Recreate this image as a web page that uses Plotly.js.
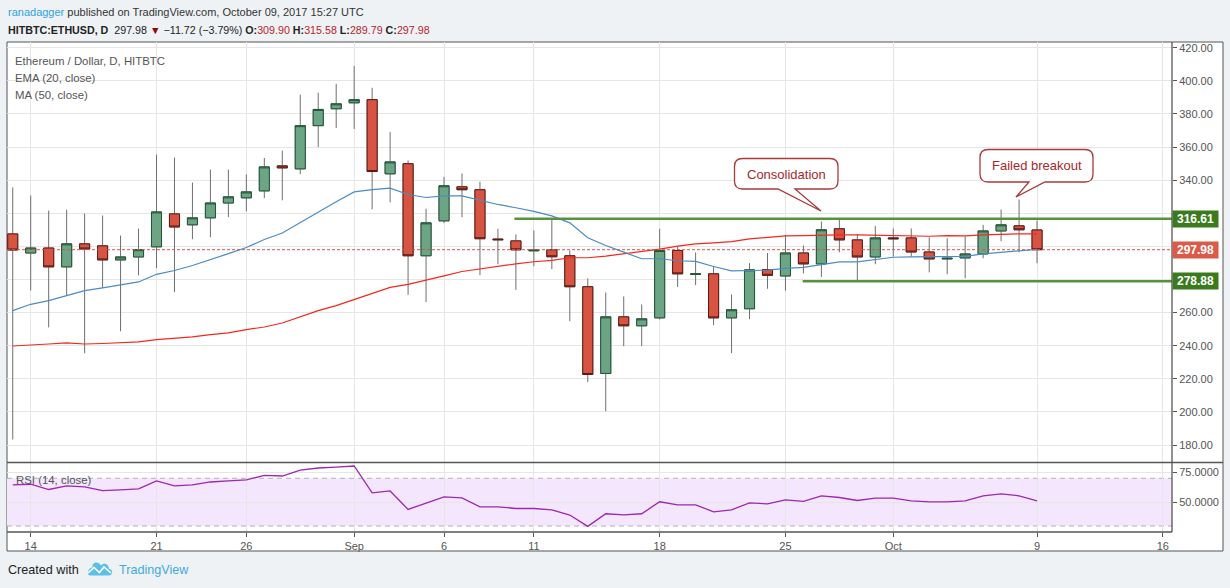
<!DOCTYPE html>
<html><head><meta charset="utf-8">
<script src="https://cdn.plot.ly/plotly-3.0.1.min.js"></script>
<style>html,body{margin:0;padding:0;background:#eff2f5;}#chart{width:1230px;height:588px;}</style>
</head><body><div id="chart"></div>
<script>
// ---- data ----
const dates = ['2017-08-13','2017-08-14','2017-08-15','2017-08-16','2017-08-17','2017-08-18','2017-08-19','2017-08-20','2017-08-21','2017-08-22',
 '2017-08-23','2017-08-24','2017-08-25','2017-08-26','2017-08-27','2017-08-28','2017-08-29','2017-08-30','2017-08-31','2017-09-01',
 '2017-09-02','2017-09-03','2017-09-04','2017-09-05','2017-09-06','2017-09-07','2017-09-08','2017-09-09','2017-09-10','2017-09-11',
 '2017-09-12','2017-09-13','2017-09-14','2017-09-15','2017-09-16','2017-09-17','2017-09-18','2017-09-19','2017-09-20','2017-09-21',
 '2017-09-22','2017-09-23','2017-09-24','2017-09-25','2017-09-26','2017-09-27','2017-09-28','2017-09-29','2017-09-30','2017-10-01',
 '2017-10-02','2017-10-03','2017-10-04','2017-10-05','2017-10-06','2017-10-07','2017-10-08','2017-10-09'];
const openP  = [307.5,296.0,299.0,287.6,301.5,300.3,291.8,293.6,299.7,319.6, 313.0,317.2,326.2,329.3,333.5,348.6,346.8,372.9,383.1,386.7,
 388.6,343.8,349.9,294.3,315.4,336.0,334.2,304.4,303.3,297.3, 297.9,294.3,275.6,223.2,257.4,252.0,256.8,297.5,283.0,283.4,
 256.8,262.3,286.0,282.1,296.0,289.4,310.6,303.9,293.6,305.1, 305.1,296.6,292.4,293.0,295.4,309.3,312.4,309.90];
const highP  = [335.6,330.7,321.6,322.2,319.8,318.6,306.5,310.7,355.4,353.6, 338.5,346.4,346.4,343.4,353.4,357.8,391.6,392.8,398.2,409.0,
 395.8,369.0,351.9,322.7,342.0,344.0,339.0,310.6,307.2,309.6, 316.6,297.5,280.6,272.1,269.7,264.9,310.6,299.9,296.3,288.0,
 270.9,289.9,296.0,306.9,300.5,315.0,316.2,307.5,312.4,310.8, 310.8,305.5,304.9,306.1,313.0,322.3,328.3,315.58];
const lowP   = [183.3,273.3,251.0,270.3,235.4,274.9,248.7,282.5,286.8,272.3, 304.3,305.5,317.6,321.2,329.1,327.8,343.6,360.0,371.5,370.9,
 322.4,326.6,270.7,266.3,314.0,317.6,282.6,289.2,273.7,288.0, 286.2,254.8,218.0,200.4,239.7,239.7,255.8,275.4,276.6,252.4,
 235.5,256.0,274.4,273.2,283.7,281.5,296.4,279.1,289.2,293.8, 293.8,284.3,283.1,280.7,292.8,303.1,296.4,289.79];
const closeP = [297.8,299.0,287.6,301.5,298.4,291.8,293.6,298.0,320.8,311.7, 317.2,326.2,329.9,332.9,348.0,347.4,372.9,382.7,386.1,388.6,
 345.2,351.0,294.3,314.2,336.6,334.2,304.6,304.0,297.9,297.7, 293.7,275.6,222.6,257.4,252.0,256.2,297.5,283.4,283.4,256.8,
 261.7,285.8,282.5,296.0,289.4,310.0,303.9,293.6,305.1,304.6, 296.6,292.4,292.8,295.4,309.3,313.0,310.0,297.98];
const ema20 = [261.2,265.0,267.2,270.3,273.3,274.9,276.7,278.5,283.1,285.4, 288.4,292.2,295.6,299.3,304.1,308.1,314.4,321.2,327.0,332.9,
 334.3,335.2,331.3,329.5,330.5,330.5,327.7,325.3,323.3,321.1, 318.4,314.2,305.2,300.5,296.5,292.5,292.5,291.3,290.9,287.8,
 285.2,285.2,285.6,286.7,287.3,289.0,290.6,290.6,292.0,293.4, 293.6,293.6,293.6,294.0,295.4,296.4,297.4,298.2];
const ma50 = [239.8,240.6,241.0,241.7,241.0,241.3,241.7,242.3,243.7,244.3, 245.3,246.7,247.7,249.7,251.3,253.7,257.4,261.2,264.2,267.8,
 271.5,275.2,277.0,279.4,282.2,284.8,286.4,288.2,289.4,290.7, 291.5,293.1,293.1,294.1,295.5,296.7,298.3,300.1,301.5,302.1,
 302.9,304.5,305.4,306.3,306.5,306.9,306.9,306.9,306.7,306.7, 306.5,306.1,306.5,306.3,306.9,307.3,307.5,307.5];
const rsi14 = [64.4,65.0,60.6,63.6,62.8,59.7,60.3,61.1,67.8,63.6, 64.4,66.9,67.8,68.6,72.5,71.9,76.9,78.6,79.4,80.3,
 57.8,59.4,43.9,49.2,54.4,53.6,46.1,46.1,44.7,44.7, 43.6,39.2,29.7,40.3,39.4,40.3,50.3,47.8,47.8,41.9,
 43.6,49.4,48.6,51.9,50.6,55.3,53.9,51.4,53.3,53.3, 51.1,50.3,50.3,51.1,55.3,56.9,55.3,51.1];
const tickDates  = ['2017-08-14','2017-08-21','2017-08-26','2017-09-01','2017-09-06','2017-09-11','2017-09-18','2017-09-25','2017-10-01','2017-10-09','2017-10-16'];
const tickLabels = ['14','21','26','Sep','6','11','18','25','Oct','9','16'];
const priceTicks = [180, 200, 220, 240, 260, 280, 300, 320, 340, 360, 380, 400, 420];
const priceTickLabels = ['180.00','200.00','220.00','240.00','260.00','','','','340.00','360.00','380.00','400.00','420.00'];
const rsiTicks = [50, 75];
const rsiTickLabels = ['50.0000', '75.0000'];
const rsiBand = [30, 70];
const levels = {resistance: 316.61, support: 278.88, last: 297.98};
const levelStarts = {resistance: '2017-09-09 22:00', support: '2017-09-25 23:00'};
const xRange = ['2017-08-12 16:20', '2017-10-16 12:15'];

// ---- pixel helpers for decorations (plot area 7..1172 x 42..532) ----
const L = 7, R = 1172, T = 42, B = 532;
const px = v => (v - L) / (R - L);
const py = v => (B - v) / (B - T);

function callout(x0, y0, x1, y1, r, bl, br, tx, ty) {
  const P = (x, y) => px(x) + ',' + py(y);
  return 'M' + P(x0 + r, y0) + ' L' + P(x1 - r, y0) + ' Q' + P(x1, y0) + ' ' + P(x1, y0 + r) +
    ' L' + P(x1, y1 - r) + ' Q' + P(x1, y1) + ' ' + P(x1 - r, y1) + ' L' + P(br, y1) + ' L' + P(tx, ty) +
    ' L' + P(bl, y1) + ' L' + P(x0 + r, y1) + ' Q' + P(x0, y1) + ' ' + P(x0, y1 - r) +
    ' L' + P(x0, y0 + r) + ' Q' + P(x0, y0) + ' ' + P(x0 + r, y0) + ' Z';
}
function pathPx(pts, close) {
  return pts.map((p, i) => (i ? 'L' : 'M') + px(p[0]) + ',' + py(p[1])).join(' ') + (close ? ' Z' : '');
}

const bodyHigh = openP.map((o, i) => Math.max(o, closeP[i]));
const bodyLow = openP.map((o, i) => Math.min(o, closeP[i]));

const traces = [
  {type: 'scatter', mode: 'lines', x: dates, y: ma50, xaxis: 'x', yaxis: 'y', line: {color: '#f2281e', width: 1.2}, hoverinfo: 'skip'},
  {type: 'scatter', mode: 'lines', x: dates, y: ema20, xaxis: 'x', yaxis: 'y', line: {color: '#4a8cc4', width: 1.2}, hoverinfo: 'skip'},
  {type: 'candlestick', x: dates, open: openP, high: highP, low: lowP, close: closeP, xaxis: 'x', yaxis: 'y',
   increasing: {line: {color: '#6f6f72', width: 1}, fillcolor: '#6ba583'},
   decreasing: {line: {color: '#6f6f72', width: 1}, fillcolor: '#d75442'}, whiskerwidth: 0},
  {type: 'candlestick', x: dates, open: openP, high: bodyHigh, low: bodyLow, close: closeP, xaxis: 'x', yaxis: 'y',
   increasing: {line: {color: '#225437', width: 1}, fillcolor: '#6ba583'},
   decreasing: {line: {color: '#5b1a13', width: 1}, fillcolor: '#d75442'}, whiskerwidth: 0},
  {type: 'scatter', mode: 'lines', x: dates, y: rsi14, xaxis: 'x2', yaxis: 'y2', line: {color: '#9c27b0', width: 1.3}, hoverinfo: 'skip'}
];

const F = 'Liberation Sans, Arial, sans-serif';
const axisCommon = {showgrid: true, gridcolor: '#e6e6e6', gridwidth: 1, zeroline: false, showline: false};

const shapes = [
  {type: 'rect', xref: 'paper', yref: 'paper', x0: px(7), x1: px(1223), y0: py(551), y1: py(42), fillcolor: '#ffffff', line: {color: '#555555', width: 1}, layer: 'below'},
  {type: 'rect', xref: 'paper', yref: 'y2', x0: 0, x1: 1, y0: rsiBand[0], y1: rsiBand[1], fillcolor: '#f4e7fd', line: {width: 0}, layer: 'below'},
  {type: 'line', xref: 'paper', yref: 'y2', x0: 0, x1: 1, y0: rsiBand[1], y1: rsiBand[1], line: {color: '#b4aebc', width: 1, dash: '5px,4px'}, layer: 'below'},
  {type: 'line', xref: 'paper', yref: 'y2', x0: 0, x1: 1, y0: rsiBand[0], y1: rsiBand[0], line: {color: '#b4aebc', width: 1, dash: '5px,4px'}, layer: 'below'},
  {type: 'line', xref: 'paper', yref: 'y', x0: 0, x1: 1, y0: levels.last, y1: levels.last, line: {color: '#d9534f', width: 1, dash: '3px,2px'}, layer: 'above'},
  {type: 'line', xref: 'x', yref: 'y', x0: levelStarts.resistance, x1: xRange[1], y0: levels.resistance, y1: levels.resistance, line: {color: '#56933a', width: 2.5}, layer: 'above'},
  {type: 'line', xref: 'x', yref: 'y', x0: levelStarts.support, x1: xRange[1], y0: levels.support, y1: levels.support, line: {color: '#56933a', width: 2.5}, layer: 'above'},
  {type: 'line', xref: 'paper', yref: 'paper', x0: px(7), x1: px(1223), y0: py(462.5), y1: py(462.5), line: {color: '#555555', width: 1.3}, layer: 'above'},
  {type: 'line', xref: 'paper', yref: 'paper', x0: px(7), x1: px(1172), y0: py(532), y1: py(532), line: {color: '#555555', width: 1.3}, layer: 'above'},
  {type: 'line', xref: 'paper', yref: 'paper', x0: px(1172), x1: px(1172), y0: py(532), y1: py(42), line: {color: '#555555', width: 1.3}, layer: 'above'},
  {type: 'path', xref: 'paper', yref: 'paper', path: callout(734.5, 158.5, 838, 189, 8, 778, 795, 821, 211), fillcolor: '#ffffff', line: {color: '#a83a3a', width: 1.3}, layer: 'above'},
  {type: 'path', xref: 'paper', yref: 'paper', path: callout(980, 149.5, 1093, 182, 8, 1029, 1045, 1016, 197), fillcolor: '#ffffff', line: {color: '#a83a3a', width: 1.3}, layer: 'above'},
  {type: 'path', xref: 'paper', yref: 'paper', path: 'M' + px(90) + ',' + py(575.5) + ' L' + px(109) + ',' + py(575.5) +
    ' C' + px(113) + ',' + py(575.5) + ' ' + px(113.5) + ',' + py(569) + ' ' + px(109) + ',' + py(569) +
    ' C' + px(109) + ',' + py(563.5) + ' ' + px(103) + ',' + py(562.5) + ' ' + px(101) + ',' + py(565.5) +
    ' C' + px(98.5) + ',' + py(560.5) + ' ' + px(91.5) + ',' + py(562) + ' ' + px(92.5) + ',' + py(567.5) +
    ' C' + px(87.5) + ',' + py(567.5) + ' ' + px(86.5) + ',' + py(575.5) + ' ' + px(90) + ',' + py(575.5) + ' Z',
    fillcolor: '#5cbfea', line: {width: 0}, layer: 'above'},
  {type: 'path', xref: 'paper', yref: 'paper', path: pathPx([[88, 573], [94, 567.5], [99.5, 572.5], [104, 567], [111, 573]], false),
    line: {color: '#ffffff', width: 1.6}, layer: 'above'}
];

const annotations = [
  {xref: 'paper', yref: 'paper', x: px(6), y: py(12), xanchor: 'left', yanchor: 'middle', showarrow: false,
   text: '<span style="color:#2ea2dc">ranadagger</span> published on TradingView.com, October 09, 2017 15:27 UTC',
   font: {family: F, size: 11, color: '#333333'}},
  {xref: 'paper', yref: 'paper', x: px(6), y: py(30), xanchor: 'left', yanchor: 'middle', showarrow: false,
   text: '<b>HITBTC:ETHUSD, D</b>  297.98 <span style="color:#8b0a0a">▼</span> −11.72 (−3.79%) <b>O:</b><span style="color:#b8242a">309.90</span> <b>H:</b><span style="color:#b8242a">315.58</span> <b>L:</b><span style="color:#b8242a">289.79</span> <b>C:</b><span style="color:#b8242a">297.98</span>',
   font: {family: F, size: 10.7, color: '#222222'}},
  {xref: 'paper', yref: 'paper', x: px(13), y: py(61), xanchor: 'left', yanchor: 'middle', showarrow: false, text: 'Ethereum / Dollar, D, HITBTC', font: {family: F, size: 11.4, color: '#555555'}},
  {xref: 'paper', yref: 'paper', x: px(13), y: py(78), xanchor: 'left', yanchor: 'middle', showarrow: false, text: 'EMA (20, close)', font: {family: F, size: 11.4, color: '#555555'}},
  {xref: 'paper', yref: 'paper', x: px(13), y: py(95), xanchor: 'left', yanchor: 'middle', showarrow: false, text: 'MA (50, close)', font: {family: F, size: 11.4, color: '#555555'}},
  {xref: 'paper', yref: 'paper', x: px(14), y: py(480), xanchor: 'left', yanchor: 'middle', showarrow: false, text: 'RSI (14, close)', font: {family: F, size: 11.4, color: '#555555'}},
  {xref: 'paper', yref: 'paper', x: px(786), y: py(174), xanchor: 'center', yanchor: 'middle', showarrow: false, text: 'Consolidation', font: {family: F, size: 13, color: '#a8282a'}},
  {xref: 'paper', yref: 'paper', x: px(1036.5), y: py(165.5), xanchor: 'center', yanchor: 'middle', showarrow: false, text: 'Failed breakout', font: {family: F, size: 13, color: '#a8282a'}},
  {xref: 'paper', yref: 'y', x: 1, y: levels.resistance, xanchor: 'left', yanchor: 'middle', showarrow: false, text: '<b>' + levels.resistance.toFixed(2) + '</b>', bgcolor: '#3b7a1e', width: 43, height: 14, borderpad: 1, font: {family: F, size: 12, color: '#ffffff'}},
  {xref: 'paper', yref: 'y', x: 1, y: levels.last, xanchor: 'left', yanchor: 'middle', showarrow: false, text: '<b>' + levels.last.toFixed(2) + '</b>', bgcolor: '#dc5a48', width: 43, height: 14, borderpad: 1, font: {family: F, size: 12, color: '#ffffff'}},
  {xref: 'paper', yref: 'y', x: 1, y: levels.support, xanchor: 'left', yanchor: 'middle', showarrow: false, text: '<b>' + levels.support.toFixed(2) + '</b>', bgcolor: '#3b7a1e', width: 43, height: 14, borderpad: 1, font: {family: F, size: 12, color: '#ffffff'}},
  {xref: 'paper', yref: 'paper', x: px(6), y: py(570), xanchor: 'left', yanchor: 'middle', showarrow: false, text: 'Created with', font: {family: F, size: 12.6, color: '#222222'}},
  {xref: 'paper', yref: 'paper', x: px(117), y: py(570), xanchor: 'left', yanchor: 'middle', showarrow: false, text: 'TradingView', font: {family: F, size: 12.6, color: '#3fa9e0'}}
];

const layout = {
  width: 1230, height: 588, autosize: false,
  margin: {l: L, r: 1230 - R, t: T, b: 588 - B, pad: 0},
  paper_bgcolor: '#eff2f5', plot_bgcolor: '#ffffff',
  showlegend: false, hovermode: false, dragmode: false,
  boxgap: 0.2, boxgroupgap: 0.3,
  xaxis: Object.assign({}, axisCommon, {type: 'date', range: xRange, anchor: 'y', tickvals: tickDates, ticktext: tickLabels, showticklabels: false, ticks: '', rangeslider: {visible: false}}),
  xaxis2: Object.assign({}, axisCommon, {type: 'date', range: xRange, anchor: 'y2', matches: 'x', tickvals: tickDates, ticktext: tickLabels, ticks: 'outside', ticklen: 4, tickcolor: '#555555', tickfont: {family: F, size: 11, color: '#555555'}, rangeslider: {visible: false}}),
  yaxis: Object.assign({}, axisCommon, {domain: [py(462), 1], range: [169.73, 423.44], side: 'right', anchor: 'x', tickvals: priceTicks, ticktext: priceTickLabels, ticks: 'outside', ticklen: 4, tickcolor: '#555555', tickfont: {family: F, size: 11, color: '#555555'}}),
  yaxis2: Object.assign({}, axisCommon, {domain: [0, py(463)], range: [25, 82.8], side: 'right', anchor: 'x2', tickvals: rsiTicks, ticktext: rsiTickLabels, ticks: 'outside', ticklen: 4, tickcolor: '#555555', tickfont: {family: F, size: 11, color: '#555555'}}),
  shapes: shapes,
  annotations: annotations
};

Plotly.newPlot('chart', traces, layout, {staticPlot: true, displayModeBar: false});
</script>
</body></html>
